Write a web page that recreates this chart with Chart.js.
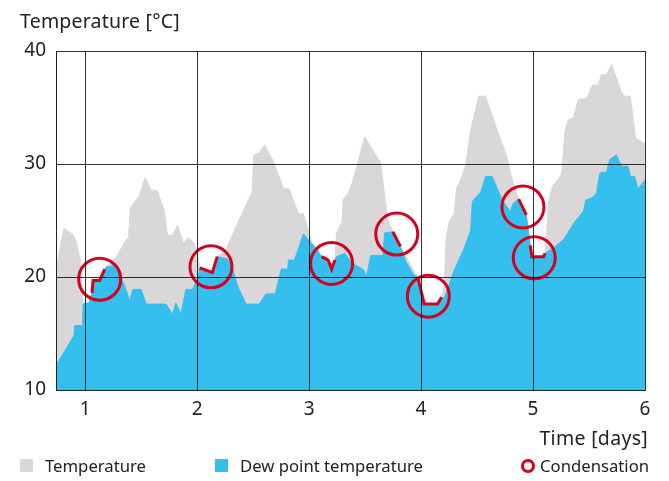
<!DOCTYPE html>
<html>
<head>
<meta charset="utf-8">
<script src="https://cdn.jsdelivr.net/npm/chart.js@4.4.1/dist/chart.umd.min.js"></script>
<style>
  body { margin: 0; background: #fff; font-family: "Noto Sans", sans-serif; color: #222; }
  #wrap { position: relative; width: 669px; height: 481px; }
  .txt { position: absolute; white-space: nowrap; line-height: 20px; }
  .sq { position: absolute; width: 13px; height: 13px; }
  .ring { position: absolute; width: 8px; height: 8px; border: 3px solid #d3001f; border-radius: 50%; }
</style>
</head>
<body>
<div id="wrap">
  <canvas id="chart" width="669" height="481"></canvas>
  <div class="txt" style="left:20px; top:11px; font-size:19.5px; letter-spacing:0.2px;">Temperature [°C]</div>
  <div class="txt" style="right:21px; top:428px; font-size:19.5px; letter-spacing:0.3px;">Time [days]</div>
  <div class="sq" style="left:20px; top:459px; background:#d9d7d8;"></div>
  <div class="txt" style="left:45px; top:456px; font-size:16.7px;">Temperature</div>
  <div class="sq" style="left:215px; top:459px; background:#35bfee;"></div>
  <div class="txt" style="left:240px; top:456px; font-size:16.7px;">Dew point temperature</div>
  <div class="ring" style="left:521px; top:459px;"></div>
  <div class="txt" style="left:540px; top:456px; font-size:16.7px;">Condensation</div>
</div>
<script>
// time in days, temperatures in °C
var tempDays = [0.74, 0.811, 0.888, 0.926, 0.959, 0.977, 1.035, 1.062, 1.071, 1.13, 1.175, 1.219, 1.279, 1.367, 1.388, 1.403, 1.485, 1.536, 1.589, 1.645, 1.707, 1.736, 1.781, 1.825, 1.878, 1.923, 1.973, 2.003, 2.024, 2.136, 2.18, 2.255, 2.373, 2.491, 2.506, 2.556, 2.603, 2.683, 2.772, 2.823, 2.905, 2.949, 3.023, 3.112, 3.171, 3.201, 3.231, 3.245, 3.295, 3.304, 3.349, 3.384, 3.497, 3.639, 3.704, 3.748, 3.816, 3.881, 3.943, 3.97, 4.029, 4.147, 4.183, 4.207, 4.223, 4.251, 4.296, 4.316, 4.369, 4.398, 4.443, 4.517, 4.576, 4.679, 4.768, 4.798, 4.842, 4.872, 4.94, 4.955, 4.975, 4.99, 5.094, 5.108, 5.123, 5.14, 5.176, 5.229, 5.256, 5.286, 5.316, 5.36, 5.405, 5.478, 5.532, 5.582, 5.611, 5.656, 5.7, 5.789, 5.818, 5.869, 5.916, 6.0];
var tempValues = [20.6, 24.3, 23.8, 23.0, 21.3, 17.7, 17.7, 18.6, 19.7, 19.7, 20.7, 21.2, 21.8, 23.3, 23.5, 26.1, 27.2, 28.8, 27.7, 27.6, 25.9, 23.7, 23.7, 24.6, 23.0, 23.5, 23.0, 22.1, 20.8, 20.4, 21.8, 22.4, 25.0, 27.5, 30.8, 31.0, 31.7, 30.2, 27.8, 27.8, 25.6, 25.6, 23.1, 21.8, 21.5, 20.7, 21.5, 23.9, 24.9, 26.9, 27.4, 28.3, 32.4, 30.1, 25.0, 24.0, 22.7, 21.6, 20.4, 20.0, 17.6, 17.6, 18.2, 19.1, 23.3, 24.9, 25.6, 27.8, 29.0, 29.9, 33.0, 36.0, 36.0, 33.0, 30.6, 29.2, 27.7, 26.9, 25.5, 24.6, 22.8, 21.8, 21.8, 22.1, 24.2, 26.8, 28.1, 28.7, 29.2, 33.0, 33.9, 34.1, 35.7, 35.8, 37.0, 37.0, 37.9, 37.9, 38.8, 36.4, 36.0, 36.0, 32.3, 31.8];

var dewDays = [0.74, 0.9, 0.909, 0.977, 0.982, 1.035, 1.062, 1.071, 1.13, 1.175, 1.19, 1.248, 1.308, 1.361, 1.397, 1.426, 1.5, 1.545, 1.722, 1.781, 1.811, 1.855, 1.9, 1.958, 2.003, 2.024, 2.136, 2.18, 2.269, 2.313, 2.358, 2.437, 2.556, 2.615, 2.698, 2.752, 2.81, 2.816, 2.87, 2.949, 3.009, 3.067, 3.112, 3.171, 3.201, 3.231, 3.245, 3.319, 3.384, 3.444, 3.491, 3.511, 3.55, 3.659, 3.675, 3.748, 3.816, 3.863, 3.934, 3.97, 4.029, 4.147, 4.183, 4.207, 4.296, 4.384, 4.443, 4.458, 4.532, 4.576, 4.635, 4.724, 4.798, 4.822, 4.872, 4.94, 4.955, 4.975, 4.99, 5.094, 5.108, 5.197, 5.272, 5.374, 5.449, 5.472, 5.523, 5.567, 5.596, 5.656, 5.686, 5.745, 5.789, 5.848, 5.869, 5.907, 5.937, 6.0];
var dewValues = [12.2, 14.8, 15.7, 15.7, 17.6, 17.7, 18.6, 19.7, 19.7, 20.7, 20.9, 21.0, 20.3, 19.0, 17.9, 18.9, 18.9, 17.6, 17.6, 16.7, 17.7, 16.7, 18.9, 18.9, 19.7, 20.8, 20.4, 21.8, 21.6, 20.9, 19.3, 17.6, 17.6, 18.5, 18.5, 20.7, 20.7, 21.5, 21.5, 23.8, 23.1, 22.5, 21.8, 21.5, 20.7, 21.5, 21.8, 22.1, 21.2, 20.9, 20.6, 19.9, 21.9, 21.9, 23.9, 24.0, 22.7, 21.4, 20.2, 20.0, 17.6, 17.6, 18.2, 18.1, 20.6, 22.5, 24.1, 26.7, 27.5, 28.9, 28.9, 26.8, 25.8, 26.5, 26.9, 25.5, 24.3, 22.8, 21.8, 21.8, 22.1, 22.7, 23.3, 24.9, 25.8, 26.8, 27.0, 27.4, 29.2, 29.3, 30.4, 30.8, 29.8, 29.8, 28.9, 28.9, 27.8, 28.6];

// stretches where temperature falls to the dew point
var condSegDays = [
  [1.062, 1.071, 1.13, 1.175],
  [2.024, 2.136, 2.18],
  [3.112, 3.171, 3.201, 3.231],
  [3.748, 3.816],
  [3.97, 4.029, 4.147, 4.183],
  [4.872, 4.94],
  [4.975, 4.99, 5.094, 5.108]
];
var condSegValues = [
  [18.6, 19.7, 19.7, 20.7],
  [20.8, 20.4, 21.8],
  [21.8, 21.5, 20.7, 21.5],
  [24.0, 22.7],
  [20.0, 17.6, 17.6, 18.2],
  [26.9, 25.5],
  [22.8, 21.8, 21.8, 22.1]
];

// circle markers
var condDays = [1.13, 2.124, 3.201, 3.783, 4.065, 4.91, 5.011];
var condValues = [19.8, 20.9, 21.2, 23.8, 18.3, 26.2, 21.7];

var xTicks = [1, 2, 3, 4, 5, 6];
var yTicks = [10, 20, 30, 40];

function pts(xs, ys) {
  return xs.map(function (x, i) { return { x: x, y: ys[i] }; });
}

var segData = [];
condSegDays.forEach(function (seg, k) {
  if (k > 0) segData.push({ x: seg[0] - 0.001, y: null });
  segData = segData.concat(pts(seg, condSegValues[k]));
});

var fontFamily = '"Noto Sans", sans-serif';
var red = '#d3001f';

var ctx = document.getElementById('chart').getContext('2d');
var chart = new Chart(ctx, {
  type: 'line',
  data: {
    datasets: [{
      label: 'Condensation',
      data: pts(condDays, condValues),
      showLine: false,
      pointRadius: 21,
      pointBorderWidth: 3,
      pointBorderColor: red,
      pointBackgroundColor: 'rgba(0,0,0,0)',
      order: 0
    }, {
      label: 'Condensation line',
      data: segData,
      borderColor: red,
      borderWidth: 3,
      pointRadius: 0,
      fill: false,
      spanGaps: false,
      order: 1
    }, {
      label: 'Dew point temperature',
      data: pts(dewDays, dewValues),
      borderColor: '#35bfee',
      backgroundColor: '#35bfee',
      borderWidth: 1,
      pointRadius: 0,
      fill: 'start',
      order: 2
    }, {
      label: 'Temperature',
      data: pts(tempDays, tempValues),
      borderColor: '#d9d7d8',
      backgroundColor: '#d9d7d8',
      borderWidth: 1,
      pointRadius: 0,
      fill: 'start',
      order: 3
    }]
  },
  options: {
    responsive: false,
    animation: false,
    events: [],
    layout: { padding: { top: 51, right: 20, left: 0, bottom: 0 } },
    plugins: { legend: { display: false }, tooltip: { enabled: false } },
    elements: { line: { tension: 0 } },
    scales: {
      x: {
        type: 'linear',
        min: 0.74,
        max: 6,
        afterBuildTicks: function (s) { s.ticks = xTicks.map(function (v) { return { value: v }; }); },
        afterFit: function (s) { s.height = 91; },
        grid: { color: 'rgba(0,0,0,0.8)', lineWidth: 1, drawTicks: false, z: 1 },
        border: { color: '#222', width: 1, z: 2 },
        ticks: { padding: 8, color: '#222', font: { size: 19, family: fontFamily }, z: 2 }
      },
      y: {
        min: 10,
        max: 40,
        afterBuildTicks: function (s) { s.ticks = yTicks.map(function (v) { return { value: v }; }); },
        afterFit: function (s) { s.width = 56; },
        grid: { color: 'rgba(0,0,0,0.8)', lineWidth: 1, drawTicks: false, z: 1 },
        border: { color: '#222', width: 1, z: 2 },
        ticks: { padding: 10, color: '#222', font: { size: 19, family: fontFamily }, z: 2 }
      }
    }
  }
});
</script>
</body>
</html>
